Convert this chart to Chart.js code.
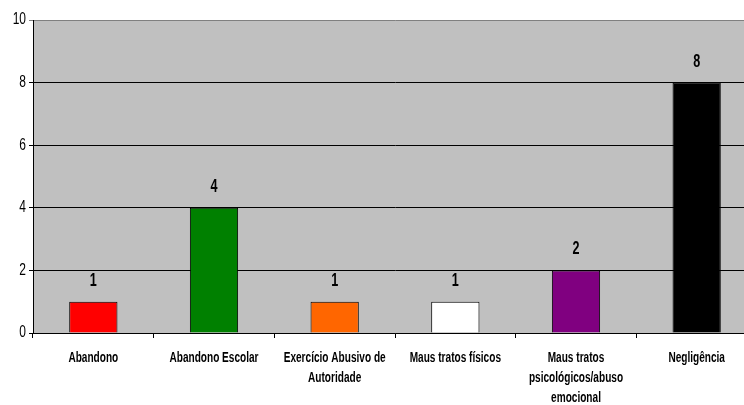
<!DOCTYPE html>
<html>
<head>
<meta charset="utf-8">
<script src="https://cdn.jsdelivr.net/npm/chart.js@4/dist/chart.umd.min.js"></script>
<style>
  html, body { margin: 0; padding: 0; background: #fff; overflow: hidden; }
  #wrap { width: 757px; height: 405px; position: relative; }
</style>
</head>
<body>
<div id="wrap"><canvas id="barChart"></canvas></div>
<script>
const categories = [
    "Abandono",
    "Abandono Escolar",
    ["Exercício Abusivo de", "Autoridade"],
    "Maus tratos físicos",
    ["Maus tratos", "psicológicos/abuso", "emocional"],
    "Negligência"
];
const counts = [1, 4, 1, 1, 2, 8];
const barColors = ["#FF0000", "#008000", "#FF6600", "#FFFFFF", "#800080", "#000000"];
const yTicks = [0, 2, 4, 6, 8, 10];

const FONT = "'Liberation Sans', Arial, sans-serif";

// narrow text: the original uses a condensed face, so squeeze horizontally
function narrowText(ctx, text, x, y, font, align, sx) {
    ctx.save();
    ctx.font = font;
    ctx.fillStyle = "#000";
    ctx.textAlign = align;
    ctx.textBaseline = "middle";
    ctx.translate(x, y);
    ctx.scale(sx, 1);
    ctx.fillText(text, 0, 0);
    ctx.restore();
}

/* gray plot background */
const plotBg = {
    id: "plotBg",
    beforeDraw(chart) {
        const { ctx, chartArea: a } = chart;
        ctx.save();
        ctx.fillStyle = "#C0C0C0";
        ctx.fillRect(a.left, a.top, a.right - a.left, a.bottom - a.top);
        ctx.restore();
    }
};

/* labels: values above bars, axis texts */
const textLabels = {
    id: "textLabels",
    afterDraw(chart) {
        const ctx = chart.ctx;
        const xs = chart.scales.x, ys = chart.scales.y;
        const area = chart.chartArea;

        chart.getDatasetMeta(0).data.forEach((bar, i) => {
            narrowText(ctx, String(counts[i]), bar.x, bar.y - 21, "bold 18px " + FONT, "center", 0.7);
        });

        yTicks.forEach(v => {
            narrowText(ctx, String(v), area.left - 7, ys.getPixelForValue(v), "16px " + FONT, "right", 0.75);
        });

        categories.forEach((lab, i) => {
            const lines = Array.isArray(lab) ? lab : [lab];
            const x = xs.getPixelForValue(i);
            lines.forEach((ln, k) => {
                narrowText(ctx, ln, x, area.bottom + 25 + k * 20, "bold 14px " + FONT, "center", 0.72);
            });
        });
    }
};

new Chart(document.getElementById("barChart"), {
    type: "bar",
    data: {
        labels: categories,
        datasets: [{
            data: counts,
            backgroundColor: barColors,
            borderColor: "#000",
            borderWidth: 1,
            barPercentage: 0.4,
            categoryPercentage: 1
        }]
    },
    options: {
        responsive: true,
        maintainAspectRatio: false,
        animation: false,
        layout: { padding: { top: 20, right: 0, left: 0, bottom: 0 } },
        plugins: { legend: { display: false }, tooltip: { enabled: false } },
        scales: {
            x: {
                afterFit: s => { s.height = 72; },
                grid: { drawOnChartArea: false, drawTicks: true, tickLength: 5, color: "#000", offset: true },
                border: { color: "#000", width: 1 },
                ticks: { color: "rgba(0,0,0,0)", maxRotation: 0, autoSkip: false }
            },
            y: {
                min: 0,
                max: 10,
                afterFit: s => { s.width = 33; },
                afterBuildTicks: s => { s.ticks = yTicks.map(v => ({ value: v })); },
                grid: {
                    color: c => (c.tick && c.tick.value === 10 ? "#808080" : "#000"),
                    lineWidth: 1,
                    drawTicks: true,
                    tickLength: 4
                },
                border: { color: "#000", width: 1 },
                ticks: { color: "rgba(0,0,0,0)" }
            }
        }
    },
    plugins: [plotBg, textLabels]
});
</script>
</body>
</html>
